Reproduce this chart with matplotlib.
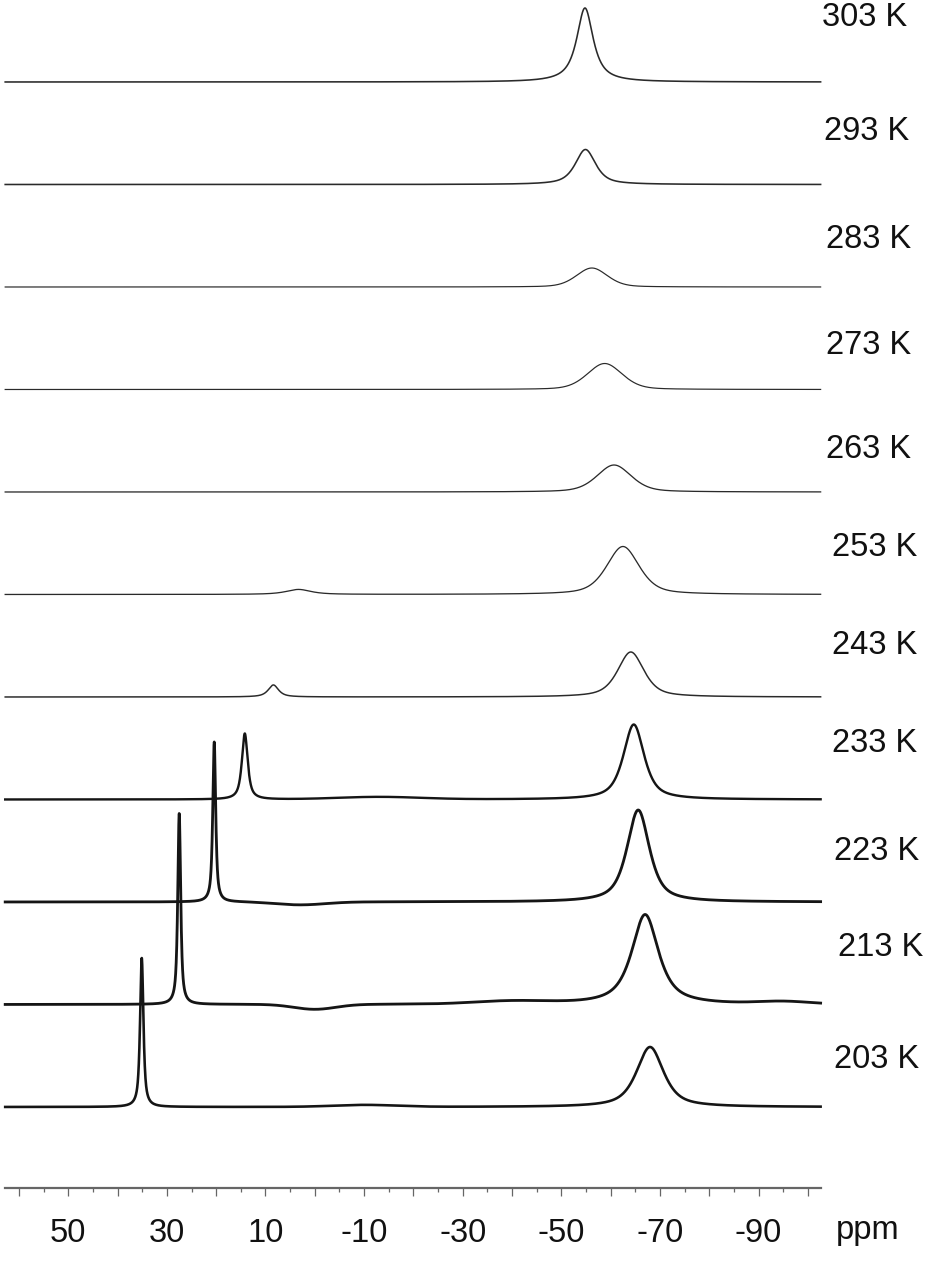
import numpy as np
import matplotlib.pyplot as plt
from matplotlib.ticker import FixedLocator, FuncFormatter

plt.rcParams['font.family'] = ['Liberation Sans', 'DejaVu Sans']

# ==========================================
# Datos
# ==========================================

temps = ['303 K', '293 K', '283 K', '273 K', '263 K', '253 K',
         '243 K', '233 K', '223 K', '213 K', '203 K']

# señal ancha (~ -60 ppm): posición (ppm), altura, anchura (ppm), fracción lorentziana
broad_pos = [-54.8, -54.9, -56.2, -58.8, -60.7, -62.5, -64.1, -64.7, -65.6, -67.0, -68.0]
broad_h = [74, 35, 19, 26, 27, 48, 45, 75, 92, 90, 60]
broad_w = [4.0, 4.9, 7.4, 8.3, 8.2, 7.8, 6.3, 5.0, 5.4, 6.5, 6.5]
broad_eta = [0.9, 0.7, 0.3, 0.3, 0.4, 0.5, 0.6, 0.7, 0.7, 0.8, 0.7]

# señal estrecha (solo por debajo de 253 K)
narrow_temp = ['253 K', '243 K', '233 K', '223 K', '213 K', '203 K']
narrow_pos = [3.3, 8.4, 14.2, 20.4, 27.5, 35.1]
narrow_h = [5, 12, 66, 160, 191, 149]
narrow_w = [6.0, 2.5, 1.4, 0.7, 0.7, 0.8]

# ondulaciones de la línea base
bump_temp = ['233 K', '223 K', '213 K', '213 K', '213 K', '203 K']
bump_pos = [-13, 3, 0, -40, -95, -10]
bump_h = [2.5, -3, -5, 3, 2.5, 2]
bump_w = [20, 12, 10, 18, 12, 15]

# grosor de línea de cada espectro (px)
trace_lw = [1.6, 1.6, 1.2, 1.2, 1.3, 1.3, 1.5, 2.4, 2.8, 2.8, 2.6]

tick_major = np.arange(60, -101, -10)
tick_minor = np.arange(55, -100, -10)


def pvoigt(x, x0, h, w, eta):
    g = np.exp(-4 * np.log(2) * ((x - x0) / w) ** 2)
    l = 1.0 / (1.0 + 4 * ((x - x0) / w) ** 2)
    return h * (eta * l + (1 - eta) * g)


# ==========================================
# Gráfico
# ==========================================

W, H = 931, 1263
fig = plt.figure(figsize=(W / 100, H / 100), dpi=100)
y_axis = 1188
ax = fig.add_axes([0, 1 - y_axis / H, 1, y_axis / H])

px_per_ppm = 4.93
x0_px = 68.3
ax.set_xlim(50 + x0_px / px_per_ppm, 50 - (W - x0_px) / px_per_ppm)
ax.set_ylim(y_axis, 0)

ppm = np.linspace(62.8, -102.6, 6000)
label_x = [822, 824, 826, 826, 826, 832, 832, 832, 834, 838, 834]
label_y = [18, 131, 239, 345, 449, 547, 646, 744, 851, 948, 1060]

for i, t in enumerate(temps):
    base = 82 + i * 102.5
    spec = pvoigt(ppm, broad_pos[i], broad_h[i], broad_w[i], broad_eta[i])
    for j, tn in enumerate(narrow_temp):
        if tn == t:
            spec = spec + pvoigt(ppm, narrow_pos[j], narrow_h[j], narrow_w[j], 0.8)
    for j, tb in enumerate(bump_temp):
        if tb == t:
            spec = spec + pvoigt(ppm, bump_pos[j], bump_h[j], bump_w[j], 0.0)
    col = '#2a2a2a' if i < 7 else '#151515'
    ax.plot(ppm, base - spec, color=col, lw=trace_lw[i] * 0.72)

    xl = 50 - (label_x[i] - x0_px) / px_per_ppm
    ax.text(xl, label_y[i], t, fontsize=23.5, ha='left', va='center', color='#111')

# ------------------------
# Eje de ppm
# ------------------------

for s in ['left', 'right', 'top']:
    ax.spines[s].set_visible(False)
ax.spines['bottom'].set_bounds(62.9, -102.6)
ax.spines['bottom'].set_color('#666666')
ax.spines['bottom'].set_linewidth(1.6)

ax.xaxis.set_major_locator(FixedLocator(tick_major))
ax.xaxis.set_minor_locator(FixedLocator(tick_minor))
ax.xaxis.set_major_formatter(FuncFormatter(
    lambda v, p: '%d' % v if (round(v) - 50) % 20 == 0 and -90 <= v <= 50 else ''))
ax.tick_params(axis='x', which='major', direction='out', length=5.5, width=0.9,
               color='#666666', labelsize=23.5, pad=16, labelcolor='#111')
ax.tick_params(axis='x', which='minor', direction='out', length=3, width=0.9,
               color='#666666')
ax.set_yticks([])

ax.text(50 - (868 - x0_px) / px_per_ppm, 1231, 'ppm', fontsize=23.5,
        ha='center', va='center', color='#111', clip_on=False)

fig.savefig('out.png', dpi=100)
